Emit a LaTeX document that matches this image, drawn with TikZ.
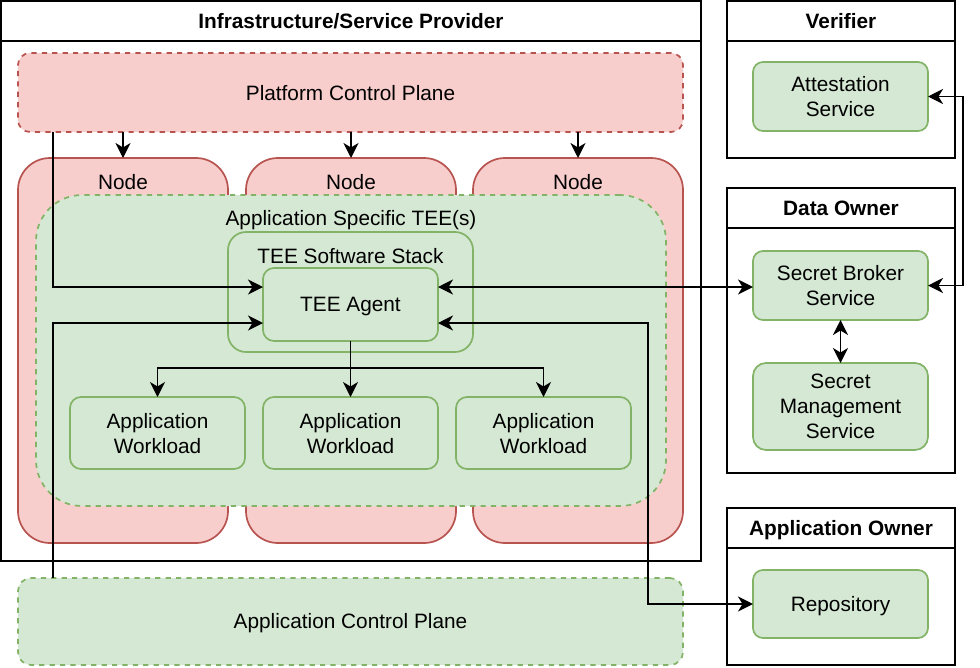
\documentclass[tikz,border=0pt]{standalone}
\usepackage{fontspec}
\setmainfont{Liberation Sans}
\usetikzlibrary{arrows.meta}
\definecolor{redfill}{HTML}{F8CECC}
\definecolor{redline}{HTML}{B85450}
\definecolor{greenfill}{HTML}{D5E8D4}
\definecolor{greenline}{HTML}{82B366}
\begin{document}
\begin{tikzpicture}[x=1pt,y=-1pt,
  font=\fontsize{20.8}{25}\selectfont,
  every node/.style={inner sep=0pt, outer sep=0pt},
  lane/.style={draw=black, line width=1.7pt, fill=white},
  redbox/.style={draw=redline, fill=redfill, line width=1.7pt},
  greenbox/.style={draw=greenline, fill=greenfill, line width=1.7pt},
  txtbox/.style={greenbox, align=center, text depth=0pt},
  dashbox/.style={dash pattern=on 5.2pt off 5.2pt},
  ttl/.style={font=\fontsize{20.8}{25}\selectfont\bfseries},
  conn/.style={draw=black, line width=1.7pt},
  tip/.tip={Stealth[length=15pt,width=15pt,inset=4.5pt]},
  arr/.style={conn,-tip},
  barr/.style={conn,tip-tip}]
\useasboundingbox (0,0) rectangle (980,667);
% Infrastructure lane
\node[lane, minimum width=700pt, minimum height=560pt] (infra) at (351,281) {};
\draw[line width=1.7pt] (1,41) -- (701,41);
\node[ttl] (infraT) at (351,21) {Infrastructure/Service Provider};
% Platform control plane
\node[redbox, dashbox, rounded corners=12pt, minimum width=665pt, minimum height=79pt] (pcp) at (350.5,92.5) {};
\node (pcpT) at (350.5,93.5) {Platform Control Plane};
% Nodes
\foreach \i/\cx in {1/123,2/351,3/578}{
  \node[redbox, rounded corners=32pt, minimum width=210pt, minimum height=385pt] (node\i) at (\cx,350.5) {};
  \node (node\i T) at (\cx,182) {Node};
}
% TEE
\node[greenbox, dashbox, rounded corners=46pt, minimum width=630pt, minimum height=311pt] (tee) at (351,350.5) {};
\node (teeT) at (351,220.5) {Application Specific TEE(s)};
\node[greenbox, rounded corners=18pt, minimum width=245pt, minimum height=120pt] (stack) at (350.5,292) {};
\node (stackT) at (350.5,256.5) {TEE Software Stack};
\node[txtbox, rounded corners=11pt, minimum width=175pt, minimum height=73pt] (agent) at (350.5,304.5) {TEE Agent};
\foreach \i/\cx in {1/157.5,2/350.5,3/543.5}{
  \node[txtbox, rounded corners=11pt, minimum width=175pt, minimum height=72pt] (w\i) at (\cx,433) {Application\\Workload};
}
% Application control plane
\node[greenbox, dashbox, rounded corners=13pt, minimum width=665pt, minimum height=87pt] (acp) at (350.5,621.5) {};
\node (acpT) at (350.5,623) {Application Control Plane};
% Verifier
\node[lane, minimum width=228pt, minimum height=157pt] (ver) at (841,79.5) {};
\draw[line width=1.7pt] (727,41) -- (955,41);
\node[ttl] (verT) at (841,21) {Verifier};
\node[txtbox, rounded corners=10pt, minimum width=175pt, minimum height=69pt] (att) at (840.5,96.5) {Attestation\\Service};
% Data owner
\node[lane, minimum width=228pt, minimum height=285pt] (dow) at (841,330.5) {};
\draw[line width=1.7pt] (727,228) -- (955,228);
\node[ttl] (dowT) at (841,208.5) {Data Owner};
\node[txtbox, rounded corners=10pt, minimum width=175pt, minimum height=69pt] (sbs) at (840.5,285.5) {Secret Broker\\Service};
\node[txtbox, rounded corners=13pt, minimum width=175pt, minimum height=87pt] (sms) at (840.5,406.5) {Secret\\Management\\Service};
% Application owner
\node[lane, minimum width=228pt, minimum height=157pt] (aow) at (841,586.5) {};
\draw[line width=1.7pt] (727,548) -- (955,548);
\node[ttl] (aowT) at (841,530) {Application Owner};
\node[txtbox, rounded corners=10pt, minimum width=175pt, minimum height=68pt] (repo) at (840.5,604) {Repository};
% Connectors
\foreach \i in {1,2,3}{
  \draw[arr] (pcp.south -| node\i.north) -- (node\i.north);
}
\draw[arr] ([xshift=35pt]pcp.south west) |- ([yshift=17.5pt]agent.west);
\draw[arr] ([xshift=35pt]acp.north west) |- ([yshift=-18.5pt]agent.west);
\draw[barr] ([yshift=17.5pt]agent.east) -- ([yshift=17.5pt]agent.east -| sbs.west);
\coordinate (bendR) at (648,0);
\draw[barr] ([yshift=-18.5pt]agent.east) -| (bendR |- repo.west) -- (repo.west);
\draw[barr] (att.east) -- ++(35,0) |- (sbs.east);
\draw[barr] (sbs.south) -- (sms.north);
\foreach \i in {1,2,3}{
  \draw[arr] (agent.south) -- ++(0,27) -| (w\i.north);
}
\end{tikzpicture}
\end{document}
